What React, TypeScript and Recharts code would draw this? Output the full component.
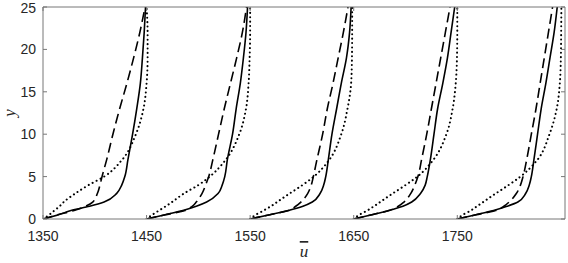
import React from "react";
import { LineChart, Line, XAxis, YAxis } from "recharts";

const AXIS = "#777777";
const TEXT = "#262626";
const INK = "#000000";

const X_TICKS = [1350, 1450, 1550, 1650, 1750];
const Y_TICKS = [0, 5, 10, 15, 20, 25];

// starting u of each profile
const BASES = [1350, 1450, 1550, 1650, 1750];

// y levels at which the profiles were read
const Y_LEVELS = [0, 0.5, 1, 1.5, 2, 3, 4, 5, 7, 10, 13, 16, 19, 22, 25];

// u - base at each y level, one row per profile
const SOLID = [
  [0, 15, 27, 45, 59, 71, 76, 79, 82, 86.5, 90.5, 94, 96, 97.7, 99],
  [0, 18, 35, 48, 58, 69, 73, 75.5, 78, 83, 86.5, 90.5, 93.5, 96, 97.5],
  [0, 19, 37, 51, 60, 67.5, 71, 73, 75.5, 79, 83.5, 88, 93, 96, 97.5],
  [0, 17.5, 34, 47.5, 56, 64.5, 69, 71, 74, 77.5, 81, 86, 90.5, 94, 97.5],
  [0, 18, 35, 48, 58.5, 66, 69.5, 71.5, 74, 77.5, 81, 85.5, 89.5, 93.5, 96.5],
];

const DASHED = [
  [0, 14, 30, 41, 48, 52.5, 55, 57, 61.5, 67.5, 74, 81, 87.5, 93.5, 98.5],
  [0, 18, 37, 44, 48, 53.5, 57, 60, 64, 69.5, 75, 81, 87, 92.5, 96.5],
  [0, 19, 37, 44, 49, 55.5, 59, 61, 64.5, 70, 74.5, 80, 85, 90, 94.5],
  [0, 17.5, 34, 43, 48.5, 55, 59, 62, 65.5, 70.5, 75, 79.5, 84, 88.5, 93],
  [0, 18, 37, 45, 50, 57, 61, 63.5, 67, 71.5, 76, 80, 84, 88, 92],
];

const DOTTED = [
  [0, 6, 11, 16, 20, 31, 44, 59, 76.5, 89.7, 97, 100, 101, 101, 100],
  [0, 5.5, 12, 18.5, 24.5, 36, 50, 61, 76.5, 89.5, 96, 98.5, 99.5, 100, 100],
  [0, 5.5, 13, 20, 26, 38, 50.5, 61.5, 76.5, 88, 94, 97.5, 98.3, 98.5, 98.5],
  [0, 5.5, 13, 19.5, 25.5, 37.5, 50, 61.5, 77, 89.5, 95.5, 98.5, 99.7, 100, 100],
  [0, 5.5, 13, 19, 25, 37, 49.5, 61, 77.5, 89, 96, 99, 100, 100.3, 100.5],
];

const profile = (offsets: number[], base: number) =>
  Y_LEVELS.map((y, i) => ({ u: base + offsets[i], y }));

const tickStyle = { fontSize: 14, fill: TEXT, fontFamily: "Liberation Sans, Arial, sans-serif" };

export default function App() {
  const lines: React.ReactNode[] = [];
  BASES.forEach((base, g) => {
    lines.push(
      <Line key={`d${g}`} data={profile(DOTTED[g], base)} dataKey="y" type="monotoneY"
        stroke={INK} strokeWidth={2} strokeDasharray="0.1 4.3" strokeLinecap="round"
        dot={false} activeDot={false} isAnimationActive={false} />,
      <Line key={`s${g}`} data={profile(SOLID[g], base)} dataKey="y" type="monotoneY"
        stroke={INK} strokeWidth={1.6} dot={false} activeDot={false} isAnimationActive={false} />,
      <Line key={`a${g}`} data={profile(DASHED[g], base)} dataKey="y" type="monotoneY"
        stroke={INK} strokeWidth={1.6} strokeDasharray="10 5"
        dot={false} activeDot={false} isAnimationActive={false} />
    );
  });

  return (
    <div style={{ position: "absolute", left: 0, top: 0, background: "#fff" }}>
      <LineChart width={568} height={263} margin={{ top: 6, right: 2, left: 0, bottom: 0 }}>
        <XAxis dataKey="u" type="number" domain={[1350, 1854]} allowDataOverflow
          ticks={X_TICKS} tick={tickStyle} tickSize={-4} tickMargin={16} height={44}
          stroke={AXIS} tickLine={{ stroke: AXIS }}
          label={{
            content: ({ viewBox }: any) => (
              <text x={viewBox.x + viewBox.width / 2} y={257} textAnchor="middle"
                fontFamily="Liberation Serif, DejaVu Serif, serif" fontStyle="italic"
                fontSize={17} fill={TEXT} style={{ textDecoration: "overline" }}>u</text>
            ),
          }} />
        <XAxis xAxisId="top" orientation="top" dataKey="u" type="number" domain={[1350, 1854]}
          allowDataOverflow ticks={X_TICKS} tickFormatter={() => ""} tickSize={-4} height={1}
          stroke={AXIS} tickLine={{ stroke: AXIS }} />
        <YAxis dataKey="y" type="number" domain={[0, 25]} allowDataOverflow
          ticks={Y_TICKS} tick={tickStyle} tickSize={-4} tickMargin={11} width={43}
          stroke={AXIS} tickLine={{ stroke: AXIS }}
          label={{
            content: ({ viewBox }: any) => {
              const cy = viewBox.y + viewBox.height / 2;
              return (
                <text x={15} y={cy} textAnchor="middle" transform={`rotate(-90, 15, ${cy})`}
                  fontFamily="Liberation Serif, DejaVu Serif, serif" fontStyle="italic"
                  fontSize={17} fill={TEXT}>y</text>
              );
            },
          }} />
        <YAxis yAxisId="right" orientation="right" type="number" domain={[0, 25]}
          allowDataOverflow ticks={Y_TICKS} tickFormatter={() => ""} tickSize={-4} width={1}
          stroke={AXIS} tickLine={{ stroke: AXIS }} />
        {lines}
      </LineChart>
    </div>
  );
}
